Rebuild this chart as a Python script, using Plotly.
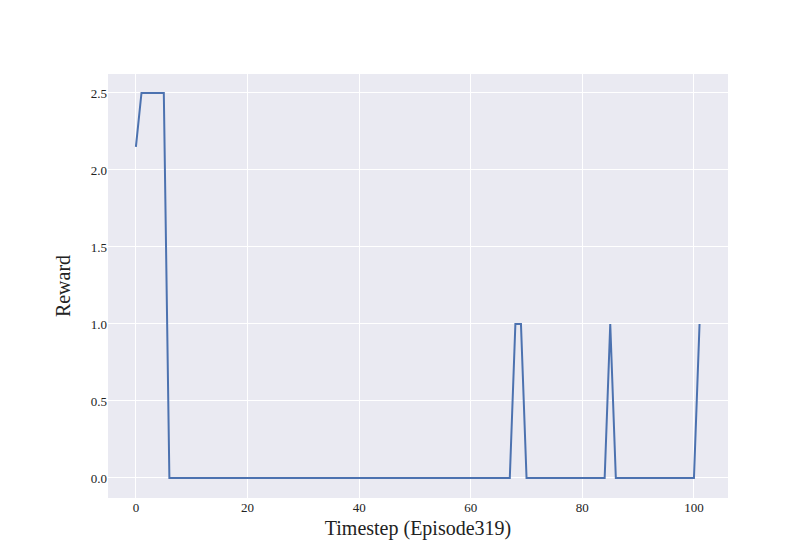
import plotly.graph_objects as go

timestep = list(range(102))
reward = [
    2.15, 2.5, 2.5, 2.5, 2.5, 2.5, 0, 0, 0, 0,
    0, 0, 0, 0, 0, 0, 0, 0, 0, 0,
    0, 0, 0, 0, 0, 0, 0, 0, 0, 0,
    0, 0, 0, 0, 0, 0, 0, 0, 0, 0,
    0, 0, 0, 0, 0, 0, 0, 0, 0, 0,
    0, 0, 0, 0, 0, 0, 0, 0, 0, 0,
    0, 0, 0, 0, 0, 0, 0, 0, 1, 1,
    0, 0, 0, 0, 0, 0, 0, 0, 0, 0,
    0, 0, 0, 0, 0, 1, 0, 0, 0, 0,
    0, 0, 0, 0, 0, 0, 0, 0, 0, 0,
    0, 1,
]

serif = "Liberation Serif, DejaVu Serif, serif"

fig = go.Figure(go.Scatter(x=timestep, y=reward, mode="lines",
                           line=dict(color="#4C72B0", width=2)))

fig.update_layout(
    width=800, height=550,
    margin=dict(l=100, r=80, t=66, b=60, autoexpand=False),
    paper_bgcolor="white", plot_bgcolor="#EAEAF2",
    font=dict(family=serif, size=13, color="#222222"),
    showlegend=False,
)
fig.update_xaxes(range=[-5.0, 106.1], tickvals=[0, 20, 40, 60, 80, 100],
                 tickfont=dict(family=serif, size=13), automargin=False,
                 gridcolor="white", gridwidth=1.2, zeroline=False,
                 ticks="", title=dict(text="Timestep (Episode319)", font=dict(family=serif, size=20), standoff=6))
fig.update_yaxes(range=[-0.13, 2.623], tickvals=[0, 0.5, 1, 1.5, 2, 2.5],
                 tickfont=dict(family=serif, size=13), automargin=False,
                 tickformat=".1f", gridcolor="white", gridwidth=1.2, zeroline=False,
                 ticks="", title=dict(text="Reward", font=dict(family=serif, size=20), standoff=14))

fig.write_html("out.html")
